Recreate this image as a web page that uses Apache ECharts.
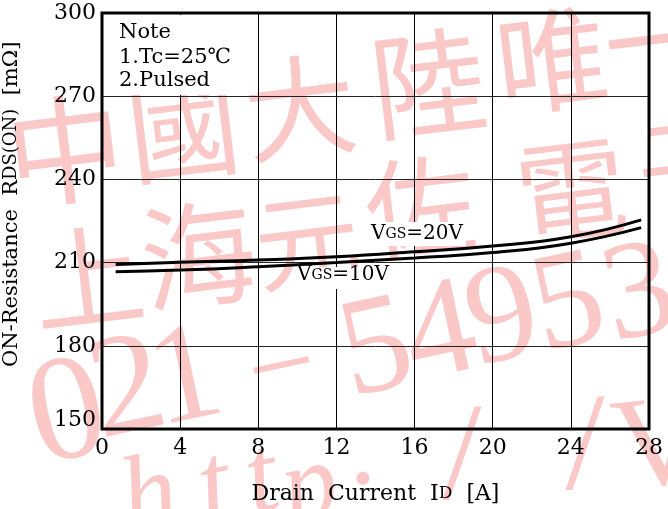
<!DOCTYPE html>
<html><head><meta charset="utf-8">
<script src="https://cdn.jsdelivr.net/npm/echarts@6/dist/echarts.min.js"></script>
<style>html,body{margin:0;padding:0;background:#fff}#c{width:668px;height:509px}</style>
</head><body><div id="c"></div>
<script>
var xTicks = [0, 4, 8, 12, 16, 20, 24, 28];
var yTicks = [150, 180, 210, 240, 270, 300];
var currentA = [0.7, 4, 8, 12, 16, 20, 24, 27.6];
var vgs20 = [209.3, 210.1, 210.9, 212.1, 213.9, 216.0, 219.3, 225.4];
var vgs10 = [206.7, 207.3, 208.5, 210.0, 211.7, 213.6, 217.0, 222.6];
var noteLines = ['Note', '1.Tc=25℃', '2.Pulsed'];

var F = '"DejaVu Serif", "Liberation Serif", serif';
var LS = '"Liberation Serif", serif';
var CJK = '"Noto Sans CJK TC"';
var chart = echarts.init(document.getElementById('c'));
var wm = '#fbc8c8';
function pairs(xs, ys){ return xs.map(function(x,i){return [x, ys[i]];}); }

// watermark glyphs: [char, centerX, centerY, size, rotation, style, family]
var wmGlyphs = [
  ['中', 65, 150, 118, 0.12, '', CJK], ['國', 183, 128, 112, 0.12, '', CJK], ['大', 300, 107, 112, 0.12, '', CJK],
  ['陸', 428, 83, 115, 0.12, '', CJK], ['唯', 552, 60, 112, 0.12, '', CJK], ['一', 660, 40, 112, 0.12, '', CJK],
  ['上', 88, 277, 112, 0.12, '', CJK], ['海', 198, 255, 115, 0.12, '', CJK], ['元', 307, 240, 105, 0.12, '', CJK],
  ['佐', 420, 207, 110, 0.12, '', CJK], ['電', 571, 190, 110, 0.12, '', CJK], ['子', 690, 165, 105, 0.12, '', CJK],
  ['0', 68, 418, 150, 0.21, '', LS], ['2', 128, 393, 145, 0.21, '', LS], ['1', 186, 382, 140, 0.21, '', LS],
  ['−', 283, 373, 120, 0.21, '', LS], ['5', 377, 353, 140, 0.21, '', LS], ['4', 441, 337, 140, 0.21, '', LS],
  ['9', 503, 322, 140, 0.21, '', LS], ['5', 569, 308, 140, 0.21, '', LS], ['3', 640, 298, 140, 0.21, '', LS],
  ['h', 150, 500, 110, 0.21, 'italic', LS], ['t', 215, 490, 110, 0.21, 'italic', LS], ['t', 262, 482, 110, 0.21, 'italic', LS],
  ['p', 310, 490, 110, 0.21, 'italic', LS], ['.', 358, 455, 110, 0.21, '', LS],
  ['/', 462, 462, 140, 0.0, '', LS], ['/', 585, 452, 140, 0.0, '', LS], ['V', 660, 450, 130, 0.1, '', LS]
];
var wmChildren = wmGlyphs.map(function(g){
  return {type: 'text', x: g[1], y: g[2], rotation: g[4],
    style: {text: g[0], font: (g[5] ? g[5] + ' ' : '') + g[3] + 'px ' + g[6], fill: wm, align: 'center', verticalAlign: 'middle'}};
});

chart.setOption({
  animation: false,
  backgroundColor: '#fff',
  grid: {left: 102, top: 13, right: 19, bottom: 80, show: true, borderColor: '#000', borderWidth: 3, z: 3,
    containLabel: false, outerBoundsMode: 'none'},
  xAxis: {
    type: 'value', min: 0, max: 28, interval: 4,
    axisLine: {show: false}, axisTick: {show: false},
    splitLine: {show: true, lineStyle: {color: '#000', width: 1}},
    axisLabel: {color: '#000', fontFamily: F, fontSize: 22, margin: 8,
      formatter: function(v){ return xTicks.indexOf(v) >= 0 ? String(v) : ''; }},
    name: 'Drain  Current  I{s|D}  [A]',
    nameLocation: 'middle', nameGap: 54,
    nameTextStyle: {color: '#000', fontFamily: F, fontSize: 22,
      rich: {s: {fontFamily: F, fontSize: 17, color: '#000'}}}
  },
  yAxis: {
    type: 'value', min: 150, max: 300, interval: 30,
    axisLine: {show: false}, axisTick: {show: false},
    splitLine: {show: true, lineStyle: {color: '#222', width: 1}},
    axisLabel: {color: '#000', fontFamily: F, fontSize: 22, margin: 6,
      formatter: function(v){ if (yTicks.indexOf(v) < 0) return ''; return v === 150 ? '{b|' + v + '}' : String(v); },
      rich: {b: {fontFamily: F, fontSize: 22, color: '#000', padding: [0, 0, 18, 0]}}},
    name: '     ON-Resistance  R{s|DS(ON)}  [mΩ]',
    nameLocation: 'middle', nameGap: 80, nameRotate: 90,
    nameTextStyle: {color: '#000', fontFamily: F, fontSize: 21,
      rich: {s: {fontFamily: F, fontSize: 18, color: '#000'}}}
  },
  graphic: [
    {type: 'group', z: -10, silent: true, children: wmChildren},
    {type: 'rect', shape: {x: 104, y: 15, width: 153, height: 80}, style: {fill: '#fff'}, z: 5},
    {type: 'rect', shape: {x: 368, y: 222, width: 98, height: 24}, style: {fill: '#fff'}, z: 1},
    {type: 'rect', shape: {x: 294, y: 267, width: 96, height: 22}, style: {fill: '#fff'}, z: 1},
    {type: 'text', left: 119, top: 22, z: 6, style: {text: noteLines[0], font: '21px ' + F, fill: '#000'}},
    {type: 'text', left: 119, top: 47, z: 6, style: {text: noteLines[1], font: '21px ' + F, fill: '#000'}},
    {type: 'text', left: 119, top: 70, z: 6, style: {text: noteLines[2], font: '21px ' + F, fill: '#000'}},
    {type: 'text', left: 371, top: 224, z: 6, style: {rich: {v: {font: '20px ' + F, fill: '#000'}, s: {font: '14px ' + F, fill: '#000'}}, text: '{v|V}{s|GS}{v|=20V}'}},
    {type: 'text', left: 297, top: 265, z: 6, style: {rich: {v: {font: '20px ' + F, fill: '#000'}, s: {font: '14px ' + F, fill: '#000'}}, text: '{v|V}{s|GS}{v|=10V}'}}
  ],
  series: [
    {name: 'VGS=20V', type: 'line', smooth: true, showSymbol: false, z: 4,
      lineStyle: {color: '#000', width: 3}, data: pairs(currentA, vgs20)},
    {name: 'VGS=10V', type: 'line', smooth: true, showSymbol: false, z: 4,
      lineStyle: {color: '#000', width: 3}, data: pairs(currentA, vgs10)}
  ]
});
</script></body></html>
